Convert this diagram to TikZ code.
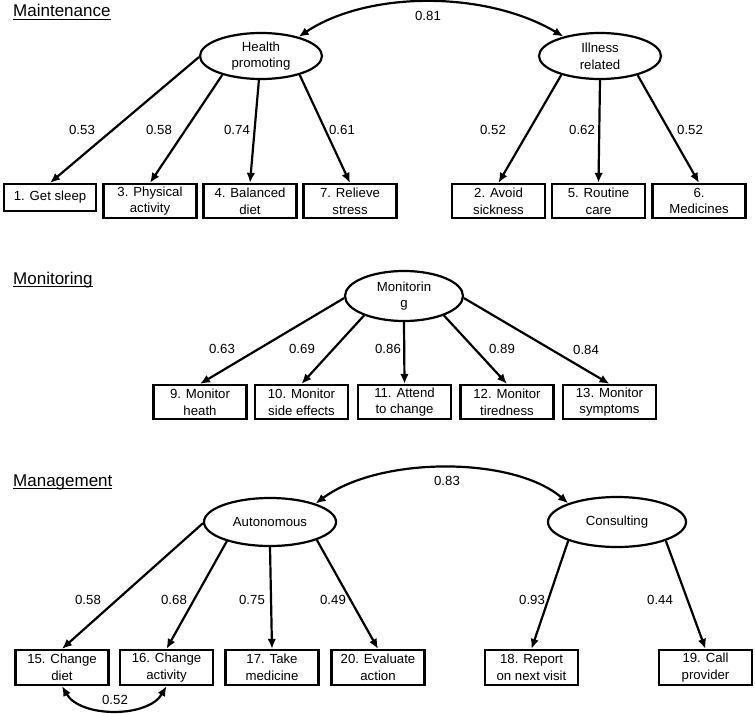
\documentclass[tikz,border=0pt]{standalone}
\usepackage{fontspec}
\setmainfont{Liberation Sans}
\usetikzlibrary{shapes.geometric,arrows.meta}
\newcommand\myul[1]{\setbox0\hbox{#1}\rlap{\rule[-3pt]{\wd0}{1.3pt}}\box0}
\begin{document}
\begin{tikzpicture}[x=1pt,y=-1pt,
  box/.style={draw,line width=2.2pt,minimum width=93pt,minimum height=34pt,inner sep=1pt,align=center,font=\fontsize{13.2}{16.7}\selectfont},
  lat/.style={draw,ellipse,line width=2.2pt,inner sep=0pt,align=center,font=\fontsize{13.2}{16.7}\selectfont},
  lbl/.style={inner sep=0pt,font=\fontsize{13.2}{15}\selectfont},
  head/.style={anchor=base west,inner sep=0pt,font=\fontsize{17}{20}\selectfont},
  arr/.style={line width=2.2pt,-{Latex[length=10pt,width=8.5pt]}},
  cov/.style={line width=2.2pt,{Latex[length=10pt,width=8.5pt]}-{Latex[length=10pt,width=8.5pt]}},
]
\useasboundingbox (0,0) rectangle (755,714);

% headings
\node[head] (h1) at (13,17) {\myul{Maintenance}};
\node[head] (h2) at (13,284) {\myul{Monitoring}};
\node[head] (h3) at (13,486) {\myul{Management}};

% ---------- Maintenance ----------
\node[lat,minimum width=122pt,minimum height=46pt] (hp) at (261,56) {Health\\promoting};
\node[lat,minimum width=122pt,minimum height=46pt] (ir) at (600,56) {Illness\\related};

\node[box,minimum width=92pt,minimum height=27pt] (b1) at (50,197.5) {1. Get sleep};
\node[box] (b3) at (150,201) {3. Physical\\activity};
\node[box] (b4) at (250,201) {4. Balanced\\diet};
\node[box] (b7) at (350,201) {7. Relieve\\stress};
\node[box] (b2) at (498.5,201) {2. Avoid\\sickness};
\node[box] (b5) at (598.5,201) {5. Routine\\care};
\node[box] (b6) at (699,201) {6.\\Medicines};

\draw[arr] (hp.181) -- (b1.north);
\draw[arr] (hp.206) -- (b3.north);
\draw[arr] (hp.265) -- (b4.north);
\draw[arr] (hp.334) -- (b7.north);
\draw[arr] (ir.206) -- (b2.north);
\draw[arr] (ir.270) -- (b5.north);
\draw[arr] (ir.333) -- (b6.north);

\node[lbl] (l1) at (82,130) {0.53};
\node[lbl] (l3) at (159,130) {0.58};
\node[lbl] (l4) at (237,130) {0.74};
\node[lbl] (l7) at (342,130) {0.61};
\node[lbl] (l2) at (493,130) {0.52};
\node[lbl] (l5) at (582,130) {0.62};
\node[lbl] (l6) at (690,130) {0.52};

\draw[cov] (hp.27) .. controls (368,-9.5) and (486,-9.5) .. (ir.152);
\node[lbl] (l81) at (428,16) {0.81};

% ---------- Monitoring ----------
\node[lat,minimum width=118pt,minimum height=50pt] (mo) at (404,296) {Monitorin\\g};

\node[box] (b9) at (200,402) {9. Monitor\\heath};
\node[box] (b10) at (301.5,402) {10. Monitor\\side effects};
\node[box] (b11) at (404.5,402) {11. Attend\\to change};
\node[box] (b12) at (507,402) {12. Monitor\\tiredness};
\node[box] (b13) at (609.5,402) {13. Monitor\\symptoms};

\draw[arr] (mo.182) -- (b9.north);
\draw[arr] (mo.206) -- (b10.north);
\draw[arr] (mo.270) -- (b11.north);
\draw[arr] (mo.334) -- (b12.north);
\draw[arr] (mo.358) -- (b13.north);

\node[lbl] (l9) at (222,349) {0.63};
\node[lbl] (l10) at (302,349) {0.69};
\node[lbl] (l11) at (388,349) {0.86};
\node[lbl] (l12) at (502,349) {0.89};
\node[lbl] (l13) at (586,350) {0.84};

% ---------- Management ----------
\node[lat,minimum width=132pt,minimum height=48pt] (au) at (270,522) {Autonomous};
\node[lat,minimum width=138pt,minimum height=50pt] (co) at (617,522) {Consulting};

\node[box,minimum height=35pt] (b15) at (62,667.5) {15. Change\\diet};
\node[box,minimum height=35pt] (b16) at (166.5,667.5) {16. Change\\activity};
\node[box,minimum height=35pt] (b17) at (272,667.5) {17. Take\\medicine};
\node[box,minimum height=35pt] (b20) at (378,667.5) {20. Evaluate\\action};
\node[box,minimum height=35pt] (b18) at (531.5,667.5) {18. Report\\on next visit};
\node[box,minimum height=35pt] (b19) at (705.5,667.5) {19. Call\\provider};

\draw[arr] (au.181) -- (b15.north);
\draw[arr] (au.204) -- (b16.north);
\draw[arr] (au.270) -- (b17.north);
\draw[arr] (au.339) -- (b20.north);
\draw[arr] (co.201) -- (b18.north);
\draw[arr] (co.339) -- (b19.north);

\node[lbl] (l15) at (88,600) {0.58};
\node[lbl] (l16) at (174,600) {0.68};
\node[lbl] (l17) at (252,600) {0.75};
\node[lbl] (l20) at (333,600) {0.49};
\node[lbl] (l18) at (532,600) {0.93};
\node[lbl] (l19) at (660,600) {0.44};

\draw[cov] (au.22) .. controls (379,456) and (513,456) .. (co.159);
\node[lbl] (l83) at (447,481) {0.83};

\draw[cov] (b15.south) .. controls (80.5,718) and (148,718) .. (b16.south);
\node[lbl] (l52) at (115,700) {0.52};
\end{tikzpicture}
\end{document}
